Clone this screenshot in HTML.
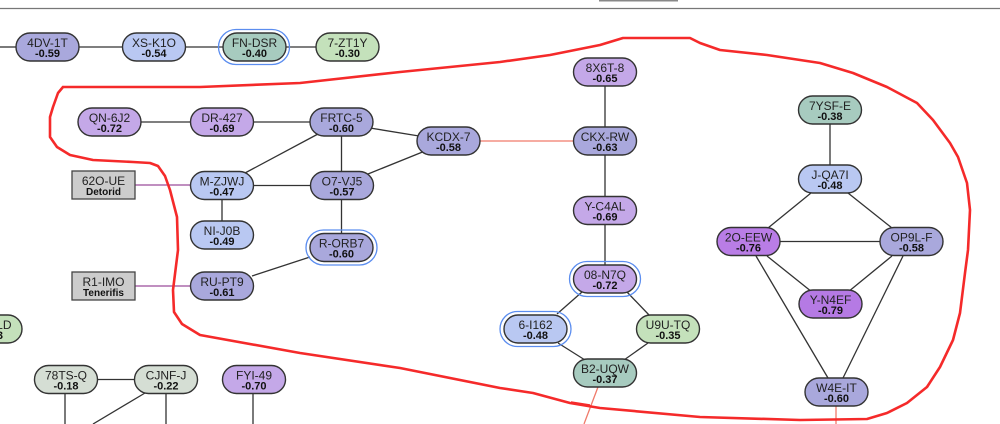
<!DOCTYPE html>
<html><head><meta charset="utf-8"><style>
html,body{margin:0;padding:0;background:#fff;}
svg{display:block;}
.n{stroke:#333;stroke-width:1.4;}
.t{font-family:"Liberation Sans",Arial,sans-serif;font-size:12px;fill:#222;text-anchor:middle;}
.v{font-family:"Liberation Sans",Arial,sans-serif;font-size:11px;font-weight:bold;fill:#111;text-anchor:middle;}
.e{stroke:#333;stroke-width:1.3;fill:none;}
.r{fill:none;stroke:#5b8def;stroke-width:1.3;}
</style></head><body>
<svg width="1000" height="424" viewBox="0 0 1000 424" xmlns="http://www.w3.org/2000/svg">
<rect x="0" y="0" width="1000" height="424" fill="#fff"/>
<line x1="0" y1="8.5" x2="1000" y2="8.5" stroke="#777" stroke-width="1.2"/>
<rect x="599" y="0" width="79" height="1.5" fill="#888"/>

<!-- edges -->
<g class="e">
<line x1="0" y1="47" x2="16" y2="47"/>
<line x1="79" y1="47" x2="123" y2="47"/>
<line x1="185" y1="47" x2="223" y2="47"/>
<line x1="286" y1="47" x2="316" y2="47"/>
<line x1="141" y1="122" x2="191" y2="122"/>
<line x1="253" y1="122" x2="311" y2="122"/>
<line x1="370" y1="128" x2="419" y2="136"/>
<line x1="318" y1="134" x2="245" y2="173"/>
<line x1="341.5" y1="136" x2="341.5" y2="172"/>
<line x1="368" y1="174" x2="425" y2="151"/>
<line x1="253" y1="185.5" x2="311" y2="185.5"/>
<line x1="222" y1="199" x2="222" y2="221"/>
<line x1="341.5" y1="199" x2="341.5" y2="234"/>
<line x1="310" y1="257" x2="252" y2="276"/>
<line x1="605" y1="86" x2="605" y2="127"/>
<line x1="605" y1="155" x2="605" y2="197"/>
<line x1="605" y1="224" x2="605" y2="265"/>
<line x1="582" y1="292" x2="557" y2="314"/>
<line x1="627" y1="292" x2="650" y2="316"/>
<line x1="558" y1="343" x2="585" y2="360"/>
<line x1="648" y1="343" x2="624" y2="360"/>
<line x1="830" y1="124" x2="830" y2="165"/>
<line x1="811" y1="193" x2="768" y2="228"/>
<line x1="848" y1="193" x2="892" y2="228"/>
<line x1="780" y1="241.5" x2="880" y2="241.5"/>
<line x1="767" y1="256" x2="812" y2="292"/>
<line x1="892" y1="256" x2="848" y2="292"/>
<line x1="756" y1="256" x2="828" y2="378"/>
<line x1="903" y1="256" x2="843" y2="378"/>
<line x1="97" y1="379.5" x2="135" y2="379.5"/>
<line x1="65" y1="393" x2="65" y2="424"/>
<line x1="166" y1="393" x2="166" y2="424"/>
<line x1="145" y1="393" x2="93" y2="424"/>
<line x1="253" y1="393" x2="253" y2="424"/>
</g>
<g stroke="#9a4c9a" stroke-width="1.3">
<line x1="135" y1="185" x2="191" y2="185"/>
<line x1="135" y1="286" x2="191" y2="286"/>
</g>
<g stroke="#f07a6a" stroke-width="1.3">
<line x1="480" y1="141" x2="573" y2="141"/>
<line x1="598" y1="387" x2="584" y2="424"/>
<line x1="836" y1="406" x2="836" y2="424"/>
</g>

<!-- rings -->
<rect class="r" x="218.5" y="29.5" width="71" height="35" rx="17.5"/>
<rect class="r" x="306" y="230" width="71" height="35" rx="17.5"/>
<rect class="r" x="569.5" y="261.5" width="71" height="35" rx="17.5"/>
<rect class="r" x="500" y="311.5" width="71" height="35" rx="17.5"/>

<!-- nodes -->
<g>
<rect class="n" x="16" y="33" width="63" height="28" rx="14" fill="#a9a8dc"/>
<text class="t" x="47.5" y="47">4DV-1T</text><text class="v" x="47.5" y="57">-0.59</text>
<rect class="n" x="122.5" y="33" width="63" height="28" rx="14" fill="#b9c8f2"/>
<text class="t" x="154" y="47">XS-K1O</text><text class="v" x="154" y="57">-0.54</text>
<rect class="n" x="223" y="33" width="63" height="28" rx="14" fill="#a7cbbf"/>
<text class="t" x="254.5" y="47">FN-DSR</text><text class="v" x="254.5" y="57">-0.40</text>
<rect class="n" x="316" y="33" width="63" height="28" rx="14" fill="#c4e1bb"/>
<text class="t" x="347.5" y="47">7-ZT1Y</text><text class="v" x="347.5" y="57">-0.30</text>

<rect class="n" x="78" y="108" width="63" height="28" rx="14" fill="#c4a8e8"/>
<text class="t" x="109.5" y="122">QN-6J2</text><text class="v" x="109.5" y="132">-0.72</text>
<rect class="n" x="190.5" y="108" width="63" height="28" rx="14" fill="#c4a8e8"/>
<text class="t" x="222" y="122">DR-427</text><text class="v" x="222" y="132">-0.69</text>
<rect class="n" x="310" y="108" width="63" height="28" rx="14" fill="#a9a8dc"/>
<text class="t" x="341.5" y="122">FRTC-5</text><text class="v" x="341.5" y="132">-0.60</text>
<rect class="n" x="417" y="127" width="63" height="28" rx="14" fill="#a9a8dc"/>
<text class="t" x="448.5" y="141">KCDX-7</text><text class="v" x="448.5" y="151">-0.58</text>

<rect x="72" y="171" width="63" height="28" fill="#cccccc" stroke="#444" stroke-width="1.3"/>
<text class="t" x="103.5" y="185">62O-UE</text><text class="v" x="103.5" y="195" style="font-size:10px">Detorid</text>
<rect x="72" y="272" width="63" height="28" fill="#cccccc" stroke="#444" stroke-width="1.3"/>
<text class="t" x="103.5" y="286">R1-IMO</text><text class="v" x="103.5" y="296" style="font-size:10px">Tenerifis</text>

<rect class="n" x="190.5" y="171.5" width="63" height="28" rx="14" fill="#b9c8f2"/>
<text class="t" x="222" y="185.5">M-ZJWJ</text><text class="v" x="222" y="195.5">-0.47</text>
<rect class="n" x="310.5" y="171.5" width="63" height="28" rx="14" fill="#a9a8dc"/>
<text class="t" x="342" y="185.5">O7-VJ5</text><text class="v" x="342" y="195.5">-0.57</text>
<rect class="n" x="190.5" y="221" width="63" height="28" rx="14" fill="#b9c8f2"/>
<text class="t" x="222" y="235">NI-J0B</text><text class="v" x="222" y="245">-0.49</text>
<rect class="n" x="310" y="233.5" width="63" height="28" rx="14" fill="#a9a8dc"/>
<text class="t" x="341.5" y="247.5">R-ORB7</text><text class="v" x="341.5" y="257.5">-0.60</text>
<rect class="n" x="190.5" y="272" width="63" height="28" rx="14" fill="#a9a8dc"/>
<text class="t" x="222" y="286">RU-PT9</text><text class="v" x="222" y="296">-0.61</text>

<rect class="n" x="573.5" y="58" width="63" height="28" rx="14" fill="#c4a8e8"/>
<text class="t" x="605" y="72">8X6T-8</text><text class="v" x="605" y="82">-0.65</text>
<rect class="n" x="573.5" y="127" width="63" height="28" rx="14" fill="#a9a8dc"/>
<text class="t" x="605" y="141">CKX-RW</text><text class="v" x="605" y="151">-0.63</text>
<rect class="n" x="573.5" y="196.5" width="63" height="28" rx="14" fill="#c4a8e8"/>
<text class="t" x="605" y="210.5">Y-C4AL</text><text class="v" x="605" y="220.5">-0.69</text>
<rect class="n" x="573.5" y="265" width="63" height="28" rx="14" fill="#c4a8e8"/>
<text class="t" x="605" y="279">08-N7Q</text><text class="v" x="605" y="289">-0.72</text>
<rect class="n" x="504" y="315" width="63" height="28" rx="14" fill="#b9c8f2"/>
<text class="t" x="535.5" y="329">6-I162</text><text class="v" x="535.5" y="339">-0.48</text>
<rect class="n" x="636.5" y="315" width="63" height="28" rx="14" fill="#c4e1bb"/>
<text class="t" x="668" y="329">U9U-TQ</text><text class="v" x="668" y="339">-0.35</text>
<rect class="n" x="573.5" y="359" width="63" height="28" rx="14" fill="#a7cbbf"/>
<text class="t" x="605" y="373">B2-UQW</text><text class="v" x="605" y="383">-0.37</text>

<rect class="n" x="798.5" y="96" width="63" height="28" rx="14" fill="#a7cbbf"/>
<text class="t" x="830" y="110">7YSF-E</text><text class="v" x="830" y="120">-0.38</text>
<rect class="n" x="798.5" y="165" width="63" height="28" rx="14" fill="#b9c8f2"/>
<text class="t" x="830" y="179">J-QA7I</text><text class="v" x="830" y="189">-0.48</text>
<rect class="n" x="717" y="227.5" width="63" height="28" rx="14" fill="#b97de6"/>
<text class="t" x="748.5" y="241.5">2O-EEW</text><text class="v" x="748.5" y="251.5">-0.76</text>
<rect class="n" x="880" y="227.5" width="63" height="28" rx="14" fill="#a9a8dc"/>
<text class="t" x="911.5" y="241.5">OP9L-F</text><text class="v" x="911.5" y="251.5">-0.58</text>
<rect class="n" x="799" y="290" width="63" height="28" rx="14" fill="#b57ae4"/>
<text class="t" x="830.5" y="304">Y-N4EF</text><text class="v" x="830.5" y="314">-0.79</text>
<rect class="n" x="805" y="378" width="63" height="28" rx="14" fill="#a9a8dc"/>
<text class="t" x="836.5" y="392">W4E-IT</text><text class="v" x="836.5" y="402">-0.60</text>

<rect class="n" x="-41" y="315" width="63" height="28" rx="14" fill="#c4e1bb"/>
<text class="t" x="-9.5" y="329">4P-XLD</text><text class="v" x="-9.5" y="339">-0.33</text>

<rect class="n" x="34.5" y="365.5" width="63" height="28" rx="14" fill="#d5ded4"/>
<text class="t" x="66" y="379.5">78TS-Q</text><text class="v" x="66" y="389.5">-0.18</text>
<rect class="n" x="134.5" y="365.5" width="63" height="28" rx="14" fill="#d5ded4"/>
<text class="t" x="166" y="379.5">CJNF-J</text><text class="v" x="166" y="389.5">-0.22</text>
<rect class="n" x="222.5" y="365.5" width="63" height="28" rx="14" fill="#c4a8e8"/>
<text class="t" x="254" y="379.5">FYI-49</text><text class="v" x="254" y="389.5">-0.70</text>
</g>

<!-- red freehand loop -->
<polyline fill="none" stroke="#f52a2a" stroke-width="2.6" stroke-linejoin="round" stroke-linecap="round"
points="63,87 200,87 300,83 400,72 500,62 550,55 600,45 623,38 690,38 700,43 720,50 767,55 820,63 853,73 887,87 917,103 933,120 950,143 958,157 967,183 970,210 968,250 965,273 960,313 953,340 940,367 927,387 907,403 887,413 867,419 800,420 700,417 600,408 570,403 533,393 500,388 400,368 300,353 200,335 182,324 174,312 173,290 178,250 177,217 170,190 165,176 158,166 150,163 133,162 93,160 70,155 57,147 50,137 50,117 53,107 58,93 63,87"/>
<line x1="571" y1="402" x2="590" y2="405" stroke="#f52a2a" stroke-width="1.5"/>
</svg>
</body></html>
